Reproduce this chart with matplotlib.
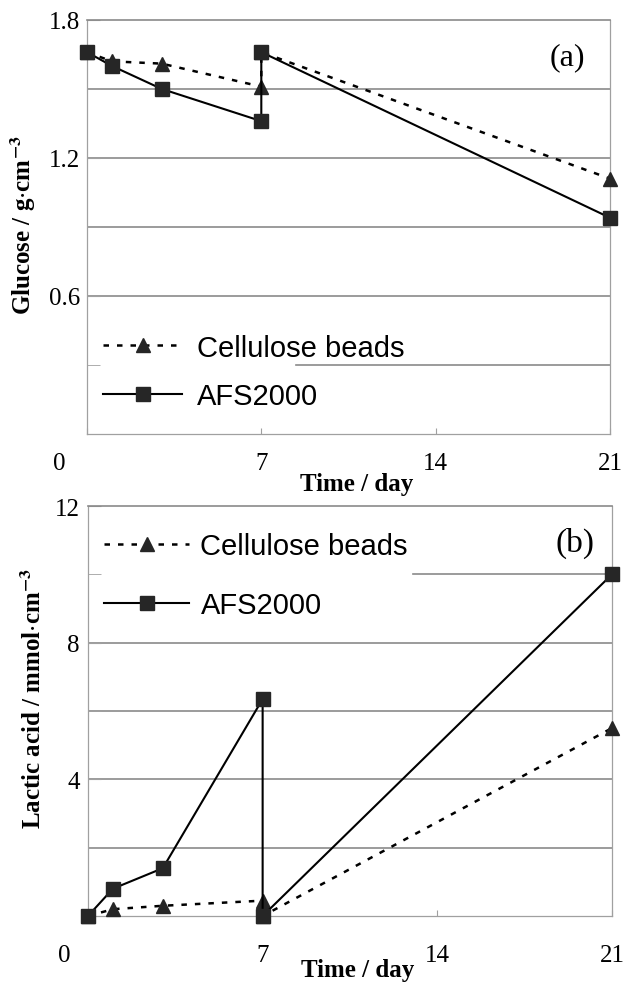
import matplotlib
matplotlib.use("Agg")
import matplotlib.pyplot as plt
import matplotlib.transforms as mtransforms

plt.rcParams['font.family'] = 'Liberation Serif'
plt.rcParams['mathtext.fontset'] = 'stix'

# sampling days (day 7 appears twice: before and after medium exchange)
days = [0, 1, 3, 7, 7, 21]

glucose_cellulose = [1.66, 1.62, 1.61, 1.51, 1.66, 1.11]
glucose_afs = [1.66, 1.60, 1.50, 1.36, 1.66, 0.94]

lactic_cellulose = [0.0, 0.2, 0.3, 0.45, 0.0, 5.5]
lactic_afs = [0.0, 0.8, 1.4, 6.35, 0.0, 10.0]

labels = ['Cellulose beads', 'AFS2000']
xticks = [0, 7, 14, 21]
glucose_ticks = [0.6, 1.2, 1.8]
glucose_minor = [0.3, 0.9, 1.5]
lactic_ticks = [4, 8, 12]
lactic_minor = [2, 6, 10]

grid_c = '#8a8a8a'
spine_c = '#a0a0a0'
mark_c = '#262626'

fig = plt.figure(figsize=(6.23, 9.87), dpi=100)
ax1 = fig.add_axes([0.1396, 0.5593, 0.8395, 0.4195])
ax2 = fig.add_axes([0.1412, 0.0709, 0.8411, 0.4154])


def draw(ax, y1, y2):
    ax.plot(days, y1, linestyle=(0, (2.2, 3.2)), lw=1.8, color='black',
            marker='^', ms=10.5, mfc=mark_c, mec=mark_c, clip_on=False,
            zorder=3, label=labels[0])
    ax.plot(days, y2, linestyle='-', lw=1.5, color='black',
            marker='s', ms=9.5, mfc=mark_c, mec=mark_c, clip_on=False,
            zorder=4, label=labels[1])


def style(ax, ymax, major, minor, partial, xpad, ypad):
    ax.set_xticks(xticks)
    ax.set_xticklabels([str(t) for t in xticks])
    ax.set_yticks(major)
    ax.set_yticklabels([('%g' % t) for t in major])
    ax.set_yticks(minor, minor=True)
    ax.set_xlim(0, 21)
    ax.set_ylim(0, ymax)
    ax.tick_params(axis='both', which='both', direction='in', color=spine_c,
                   labelsize=18)
    ax.tick_params(axis='x', length=4, pad=xpad)
    ax.tick_params(axis='y', which='major', length=9, pad=ypad)
    ax.tick_params(axis='y', which='minor', length=9)
    # horizontal rules at every tick except the partly covered one
    for g in major + minor:
        if g == partial[0]:
            ax.axhline(g, xmin=partial[1], xmax=1, color=grid_c, lw=1.2,
                       zorder=1)
        elif g < ymax:
            ax.axhline(g, color=grid_c, lw=1.2, zorder=1)
    for s in ['left', 'bottom', 'right']:
        ax.spines[s].set_color(spine_c)
        ax.spines[s].set_linewidth(0.9)
    ax.spines['top'].set_color(grid_c)
    ax.spines['top'].set_linewidth(1.2)


# (a) glucose
draw(ax1, glucose_cellulose, glucose_afs)
style(ax1, 1.8, glucose_ticks, glucose_minor, (0.3, 0.40), 13, 5)
ax1.set_xlabel('Time / day', fontsize=18, fontweight='bold')
ax1.xaxis.set_label_coords(0.516, -0.092)
ax1.set_ylabel(r'Glucose / g$\cdot$cm$^{\mathbf{-3}}$', fontsize=18,
               fontweight='bold')
ax1.yaxis.set_label_coords(-0.094, 0.507)
ax1.text(0.918, 0.911, '(a)', transform=ax1.transAxes, fontsize=23,
         ha='center', va='center')
ax1.legend(loc='center left', bbox_to_anchor=(0.031, 0.150), frameon=False,
           borderpad=0, borderaxespad=0, numpoints=1, handlelength=2.7,
           handletextpad=0.5, labelspacing=0.7,
           prop={'family': 'Liberation Sans', 'size': 21})

# (b) lactic acid
draw(ax2, lactic_cellulose, lactic_afs)
style(ax2, 12, lactic_ticks, lactic_minor, (10, 0.62), 20, 6)
ax2.set_xlabel('Time / day', fontsize=18, fontweight='bold')
ax2.xaxis.set_label_coords(0.514, -0.103)
ax2.set_ylabel(r'Lactic acid / mmol$\cdot$cm$^{\mathbf{-3}}$', fontsize=18,
               fontweight='bold')
ax2.yaxis.set_label_coords(-0.080, 0.532)
ax2.text(0.929, 0.912, '(b)', transform=ax2.transAxes, fontsize=24,
         ha='center', va='center')
ax2.legend(loc='center left', bbox_to_anchor=(0.031, 0.830), frameon=False,
           borderpad=0, borderaxespad=0, numpoints=1, handlelength=2.9,
           handletextpad=0.4, labelspacing=1.05,
           prop={'family': 'Liberation Sans', 'size': 21})

# the "0" day label sits a little left of the axis
for ax, dx in [(ax1, -20), (ax2, -17)]:
    lab = ax.get_xticklabels()[0]
    lab.set_transform(lab.get_transform() +
                      mtransforms.ScaledTranslation(dx / 72, 0,
                                                    fig.dpi_scale_trans))

fig.savefig('out.png', dpi=100)
